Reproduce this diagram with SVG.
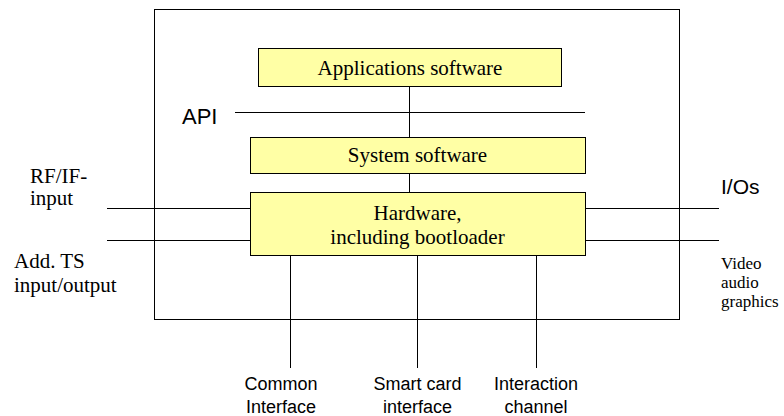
<svg xmlns="http://www.w3.org/2000/svg" width="784" height="416" viewBox="0 0 784 416">
<style>
.ln{stroke:#000;stroke-width:1;fill:none}
.box{fill:#ffffa5;stroke:#000;stroke-width:1}
.tm{font-family:"Liberation Serif",serif;font-size:21px;fill:#000}
.sm{font-family:"Liberation Serif",serif;font-size:17px;fill:#000}
.ar{font-family:"Liberation Sans",sans-serif;fill:#000}
.bt{font-family:"Liberation Sans",sans-serif;font-size:18px;fill:#000;text-anchor:middle}
</style>
<rect width="784" height="416" fill="#fff"/>
<g id="frame"><rect class="ln" x="154.5" y="9.5" width="525" height="310"/></g>
<g id="connectors">
<line class="ln" x1="235" y1="112.5" x2="585" y2="112.5"/>
<line class="ln" x1="409.5" y1="86" x2="409.5" y2="137"/>
<line class="ln" x1="409.5" y1="173" x2="409.5" y2="192"/>
<line class="ln" x1="107" y1="208.5" x2="250" y2="208.5"/>
<line class="ln" x1="107" y1="240.5" x2="250" y2="240.5"/>
<line class="ln" x1="585" y1="208.5" x2="719" y2="208.5"/>
<line class="ln" x1="585" y1="240.5" x2="719" y2="240.5"/>
<line class="ln" x1="290.5" y1="255" x2="290.5" y2="368"/>
<line class="ln" x1="417.5" y1="255" x2="417.5" y2="368"/>
<line class="ln" x1="536.5" y1="255" x2="536.5" y2="368"/>
</g>
<g id="apps"><rect class="box" x="258.5" y="48.5" width="303" height="38"/>
<text class="tm" x="410" y="75" text-anchor="middle">Applications software</text></g>
<g id="api"><text class="ar" x="182" y="124" font-size="22">API</text></g>
<g id="system"><rect class="box" x="250.5" y="137.5" width="335" height="36"/>
<text class="tm" x="417.5" y="162" text-anchor="middle">System software</text></g>
<g id="hardware"><rect class="box" x="250.5" y="192.5" width="335" height="63"/>
<text class="tm" x="417.5" y="220" text-anchor="middle">Hardware,</text>
<text class="tm" x="417.5" y="244" text-anchor="middle">including bootloader</text></g>
<g id="rf"><text class="tm" x="30" y="183">RF/IF-</text><text class="tm" x="30" y="205">input</text></g>
<g id="ts"><text class="tm" x="14" y="268">Add. TS</text><text class="tm" x="14" y="292">input/output</text></g>
<g id="ios"><text class="ar" x="721" y="194" font-size="21">I/Os</text></g>
<g id="video"><text class="sm" x="721" y="269">Video</text><text class="sm" x="721" y="288">audio</text><text class="sm" x="721" y="307">graphics</text></g>
<g id="ci"><text class="bt" x="281" y="390">Common</text><text class="bt" x="281" y="413">Interface</text></g>
<g id="sc"><text class="bt" x="417.5" y="390">Smart card</text><text class="bt" x="417.5" y="413">interface</text></g>
<g id="ic"><text class="bt" x="536" y="390">Interaction</text><text class="bt" x="536" y="413">channel</text></g>
</svg>
